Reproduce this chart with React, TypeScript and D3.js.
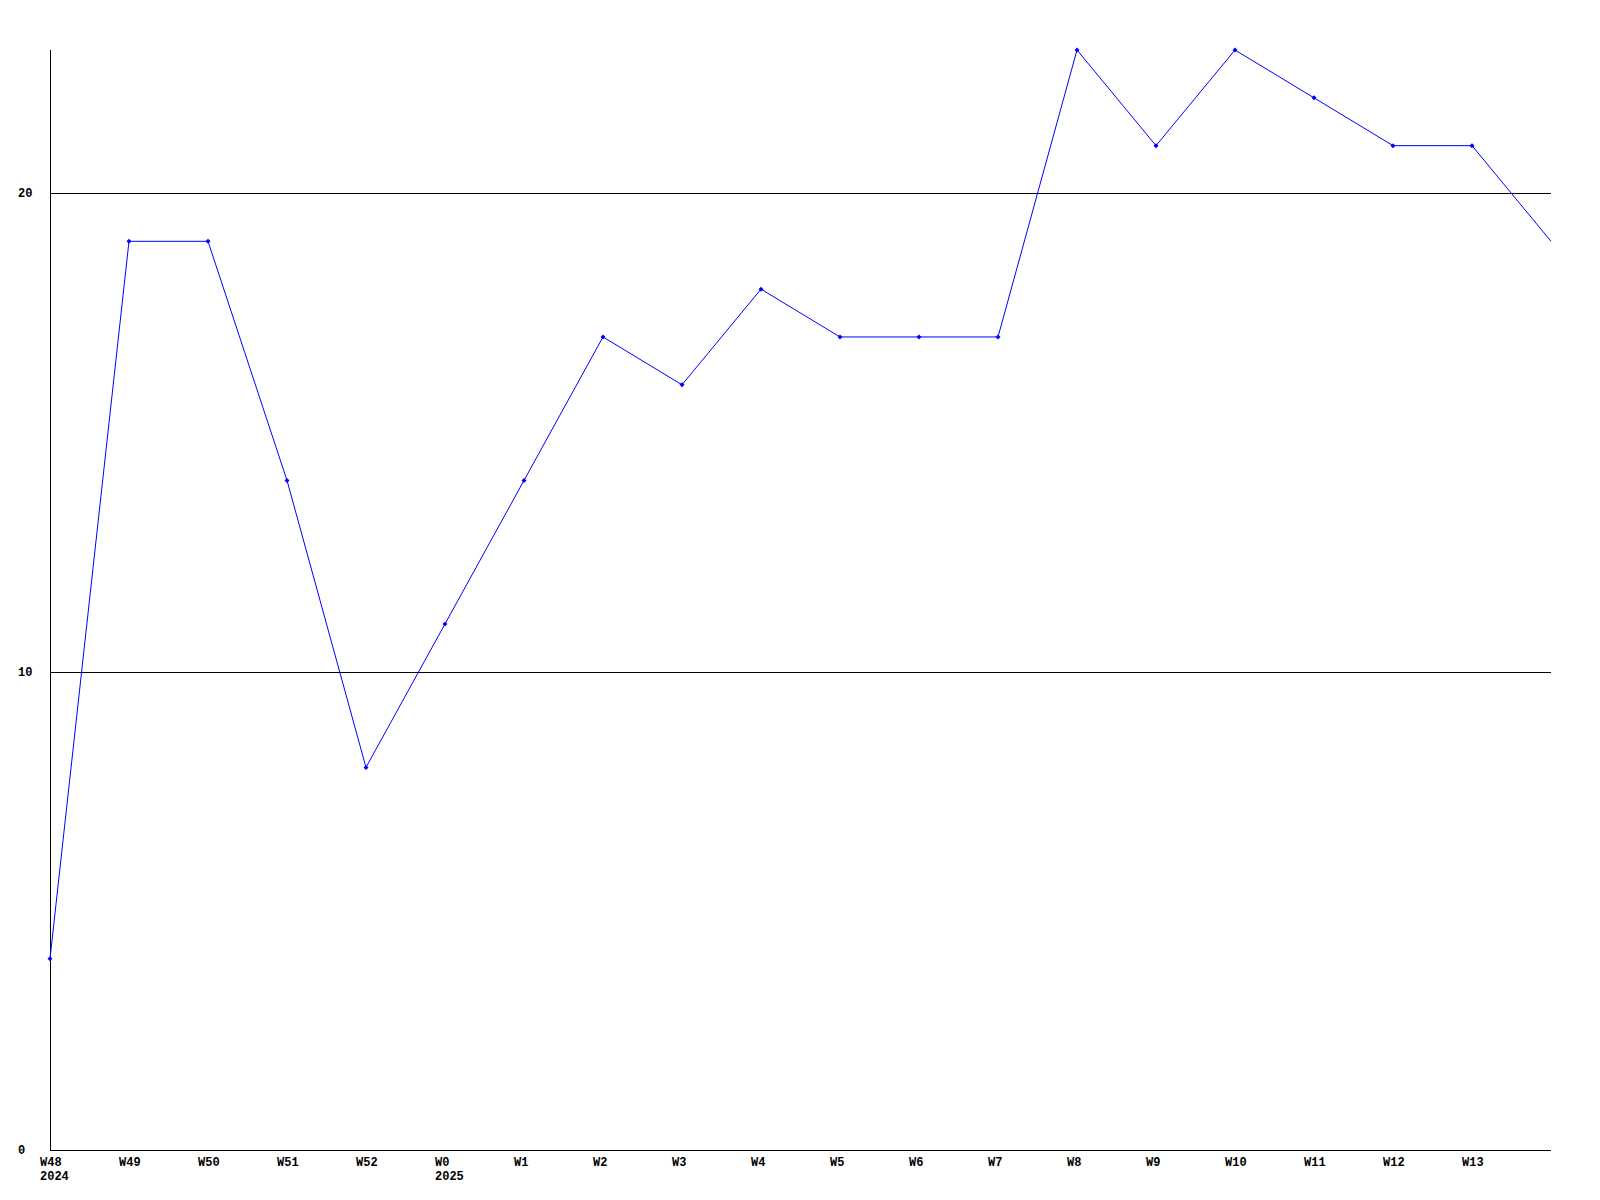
import React from "react";
import * as d3 from "d3";

const weekLabels = ["W48", "W49", "W50", "W51", "W52", "W0", "W1", "W2", "W3", "W4", "W5", "W6", "W7", "W8", "W9", "W10", "W11", "W12", "W13"];
const yearLabels = [{ index: 0, label: "2024" }, { index: 5, label: "2025" }];
const values = [4, 19, 19, 14, 8, 11, 14, 17, 16, 18, 17, 17, 17, 23, 21, 23, 22, 21, 21, 19];
const yTicks = [0, 10, 20];

const W = 1600;
const H = 1200;
const left = 50;
const right = 1551;
const top = 50;
const bottom = 1150;

export default function App() {
  const x = d3.scaleLinear().domain([0, values.length - 1]).range([left, right]);
  const y = d3.scaleLinear().domain([0, 23]).range([bottom, top]);
  const line = d3
    .line<number>()
    .x((_, i) => x(i))
    .y((d) => y(d));
  const font = "'Liberation Mono', 'DejaVu Sans Mono', monospace";
  const fs = 12;
  const px = (v: number) => Math.round(v) + 0.5;
  return (
    <svg
      width={W}
      height={H}
      style={{ position: "absolute", left: 0, top: 0, background: "#fff" }}
      shapeRendering="crispEdges"
    >
      <rect x={0} y={0} width={W} height={H} fill="#fff" />
      {yTicks.map((t) => (
        <g key={t}>
          {t !== 0 && (
            <line x1={px(left)} x2={right} y1={px(y(t))} y2={px(y(t))} stroke="#000" strokeWidth={1} />
          )}
          <text
            x={18}
            y={y(t) + 4}
            textAnchor="start"
            fontFamily={font}
            fontWeight="bold"
            fontSize={fs}
            fill="#000"
          >
            {t}
          </text>
        </g>
      ))}
      <line x1={px(left)} x2={px(left)} y1={top} y2={px(bottom)} stroke="#000" strokeWidth={1} />
      <line x1={px(left)} x2={right} y1={px(bottom)} y2={px(bottom)} stroke="#000" strokeWidth={1} />
      {weekLabels.map((l, i) => (
        <text
          key={l}
          x={x(i) - 10}
          y={1166}
          fontFamily={font}
          fontWeight="bold"
          fontSize={fs}
          fill="#000"
        >
          {l}
        </text>
      ))}
      {yearLabels.map((yl) => (
        <text
          key={yl.label}
          x={x(yl.index) - 10}
          y={1180}
          fontFamily={font}
          fontWeight="bold"
          fontSize={fs}
          fill="#000"
        >
          {yl.label}
        </text>
      ))}
      <path d={line(values) || ""} fill="none" stroke="#0000ff" strokeWidth={1} shapeRendering="auto" />
      {values.slice(0, weekLabels.length).map((v, i) => (
        <g key={i} shapeRendering="auto">
          <path
            d={`M${x(i)},${y(v) - 2.5}L${x(i) + 2.5},${y(v)}L${x(i)},${y(v) + 2.5}L${x(i) - 2.5},${y(v)}Z`}
            fill="#0000ff"
          />
        </g>
      ))}
    </svg>
  );
}
